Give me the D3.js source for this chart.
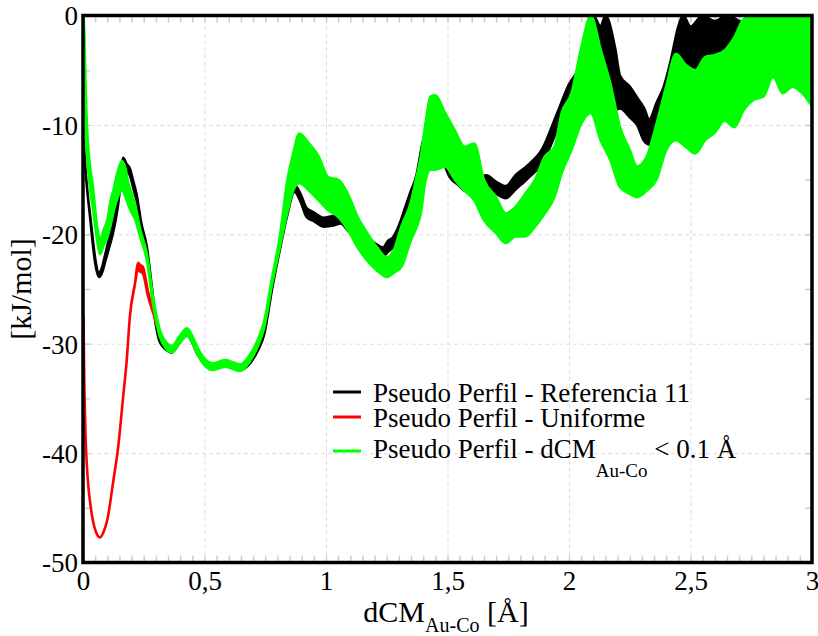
<!DOCTYPE html>
<html>
<head>
<meta charset="utf-8">
<title>Pseudo Perfil</title>
<script src="https://cdn.jsdelivr.net/npm/d3@7"></script>
<style>
  body { margin: 0; background: #fff; }
  text { font-family: "Liberation Serif", "Times New Roman", serif; fill: #000; }
  .grid line { stroke: #ddd; stroke-dasharray: 4,3; }
  .grid path, .minor path, .labels path { display: none; }
  .minor line { stroke: #ccc; stroke-width: 1.5; }
</style>
</head>
<body>
<script>
// [dCM (Å), bottom of the noise band, top of the noise band] in kJ/mol
var referencia11 = [
  [0.003,-11.5,-11.5],[0.01,-14,-14],[0.02,-16.5,-16.5],[0.03,-18.6,-18.4],[0.04,-20.8,-20.4],
  [0.05,-22.6,-22.2],[0.066,-23.9,-23.5],[0.08,-23.4,-22.9],[0.09,-22.6,-22.0],[0.105,-21.4,-20.6],
  [0.12,-20.2,-19.4],[0.135,-18.6,-17.8],[0.145,-17.2,-16.4],[0.155,-15.3,-14.5],[0.165,-13.6,-13.0],
  [0.18,-14.2,-13.6],[0.193,-14.6,-14.0],[0.205,-15.6,-15.0],[0.22,-16.9,-16.3],[0.24,-19.5,-19.0],
  [0.263,-21.6,-21.2],[0.28,-24.6,-24.2],[0.30,-28.3,-27.9],[0.317,-29.9,-29.5],[0.34,-30.5,-30.1],
  [0.366,-30.8,-30.4],[0.395,-30.0,-29.6],[0.428,-29.2,-28.8],[0.45,-29.9,-29.5],[0.47,-30.9,-30.5],
  [0.494,-31.7,-31.3],[0.535,-32.3,-31.9],[0.584,-32.0,-31.6],[0.646,-32.4,-32.0],[0.687,-31.8,-31.4],
  [0.72,-30.6,-30.2],[0.745,-29.2,-28.8],[0.778,-25.0,-24.6],[0.81,-21.4,-21.0],[0.84,-18.3,-17.9],
  [0.87,-16.1,-15.5],[0.895,-17.0,-16.3],[0.92,-18.4,-17.6],[0.95,-18.8,-18.0],[0.99,-19.3,-18.5],
  [1.03,-19.2,-18.3],[1.06,-19.0,-18.2],[1.10,-19.9,-19.1],[1.14,-20.4,-19.6],[1.17,-21.1,-20.3],
  [1.20,-21.6,-20.8],[1.235,-22.0,-21.2],[1.255,-21.6,-20.6],[1.275,-21.2,-20.3],[1.30,-20.2,-19.2],
  [1.325,-18.5,-17.6],[1.35,-17.0,-16.0],[1.37,-15.8,-14.8],[1.40,-12.4,-11.4],[1.43,-10.8,-9.8],
  [1.45,-11.5,-10.3],[1.48,-13.2,-12.2],[1.51,-14.8,-13.9],[1.545,-15.5,-14.5],[1.58,-16.1,-15.1],
  [1.62,-15.9,-14.8],[1.66,-15.8,-14.6],[1.70,-16.3,-15.2],[1.74,-16.7,-15.6],[1.78,-15.9,-14.6],
  [1.83,-14.9,-13.7],[1.89,-13.5,-12.2],[1.95,-10.5,-9.0],[2.0,-7.6,-6.3],[2.05,-6.5,-4.5],
  [2.08,-6.0,-2.5],[2.1,-5.5,0],[2.13,-6,-1],[2.15,-6.5,0],[2.19,-8.6,-3],[2.21,-8.5,-5.5],
  [2.25,-9.3,-6.5],[2.28,-10.0,-7.5],[2.31,-11.5,-8.5],[2.33,-11.8,-9.5],[2.36,-10.5,-8.0],
  [2.39,-9.6,-6.5],[2.42,-8,-4],[2.45,-6,-1],[2.47,-6,0],[2.5,-5.5,-1],[2.55,-6,0],
  [2.6,-5,-0.5],[2.65,-5.5,0],[2.7,-5,-0.5],[2.73,-4.5,-1]
];
var uniforme = [
  [0.002,-27.5,-27.5],[0.005,-33,-33],[0.01,-38,-38],[0.02,-42.5,-42.5],[0.03,-44.6,-44.6],
  [0.04,-46.1,-46.1],[0.055,-47.3,-47.3],[0.07,-47.7,-47.7],[0.085,-47.2,-47.2],[0.1,-46.1,-46.1],
  [0.125,-42.5,-42.5],[0.145,-39.4,-39.4],[0.165,-34.9,-34.9],[0.18,-31.5,-31.5],[0.193,-27.5,-27.5],
  [0.214,-24.5,-24.5],[0.226,-23.2,-22.6],[0.235,-23.4,-22.8],[0.247,-23.6,-23.0],[0.267,-25.6,-25.2],
  [0.296,-27.7,-27.3],[0.317,-29.4,-29.0]
];
var dcm01 = [
  [0.002,-1,0],[0.006,-6,-2],[0.01,-9.5,-6],[0.016,-12.5,-10],[0.025,-15,-13],[0.04,-17.5,-15.5],
  [0.058,-20.5,-19.3],[0.07,-21.8,-20.6],[0.085,-21.0,-19.6],[0.1,-20.3,-18.7],[0.115,-19.0,-16.8],
  [0.125,-18.0,-16.0],[0.14,-16.8,-14.5],[0.16,-16.0,-13.3],[0.175,-16.6,-14.0],[0.186,-17.3,-15.3],
  [0.2,-18.0,-16.2],[0.214,-18.6,-17.2],[0.235,-20.2,-19.5],[0.263,-22.4,-21.8],[0.288,-26.3,-25.7],
  [0.317,-29.4,-28.8],[0.34,-30.4,-29.8],[0.366,-30.8,-30.2],[0.395,-30.0,-29.4],[0.428,-29.3,-28.6],
  [0.45,-29.9,-29.3],[0.47,-30.9,-30.3],[0.494,-31.8,-31.2],[0.535,-32.4,-31.8],[0.584,-32.1,-31.5],
  [0.646,-32.5,-31.9],[0.687,-31.6,-31.0],[0.72,-30.2,-29.6],[0.745,-28.6,-28.0],[0.778,-24.6,-24.0],
  [0.81,-21.2,-20.2],[0.84,-18.1,-15.2],[0.865,-16.0,-12.6],[0.89,-15.3,-10.8],[0.93,-16.0,-11.7],
  [0.97,-16.9,-12.9],[1.01,-17.8,-14.8],[1.05,-18.4,-15.0],[1.09,-19.6,-16.3],[1.13,-21.2,-18.4],
  [1.17,-22.4,-19.9],[1.21,-23.3,-21.2],[1.25,-23.9,-22.1],[1.28,-23.5,-21.4],[1.31,-23.0,-19.3],
  [1.35,-20.5,-17.0],[1.37,-19.5,-15],[1.39,-18.1,-12.9],[1.41,-15,-9.8],[1.43,-14.1,-7.4],
  [1.45,-14.1,-7.3],[1.49,-13.8,-8.9],[1.53,-15,-10.5],[1.57,-16,-12],[1.61,-16.9,-11.7],
  [1.65,-18.7,-15],[1.70,-19.9,-16.6],[1.74,-20.8,-18.1],[1.78,-20.2,-17.5],[1.82,-20.2,-16.3],
  [1.86,-19.3,-15],[1.90,-18.1,-12.9],[1.94,-16.6,-12],[1.97,-14.4,-8.9],[2.01,-12.3,-7.1],
  [2.05,-9.9,-3.0],[2.09,-8.9,0],[2.13,-11.4,-3.1],[2.17,-13.2,-6.2],[2.21,-15.7,-10.2],
  [2.25,-16.3,-12.3],[2.28,-16.6,-13.8],[2.32,-16.0,-12.9],[2.36,-15,-9.9],[2.40,-12.3,-6.5],
  [2.44,-11.4,-3.5],[2.48,-12.0,-4.5],[2.52,-12.6,-5],[2.56,-11.4,-3.8],[2.60,-10.7,-3.6],
  [2.64,-9.6,-3.2],[2.68,-10.2,-2],[2.72,-8.6,-0.3],[2.76,-7.7,0],[2.80,-7.4,0],[2.84,-5.6,0],
  [2.88,-7.1,0],[2.92,-6.5,0],[2.96,-7.1,0],[3.0,-8.3,0]
];
var xTicks = [0, 0.5, 1, 1.5, 2, 2.5, 3];
var yTicks = [0, -10, -20, -30, -40, -50];
var seriesNames = ["Pseudo Perfil - Referencia 11", "Pseudo Perfil - Uniforme", "Pseudo Perfil - dCM"];
var seriesColors = ["#000000", "#ff0000", "#00ff00"];

var width = 818, height = 636;
var plotLeft = 83, plotRight = 812, plotTop = 15.5, plotBottom = 562.5;

var svg = d3.select("body").append("svg")
  .attr("width", width)
  .attr("height", height);

var x = d3.scaleLinear().domain([0, 3]).range([plotLeft, plotRight]);
var y = d3.scaleLinear().domain([-50, 0]).range([plotBottom, plotTop]);

// dashed grid at the labelled values
svg.append("g").attr("class", "grid")
  .attr("transform", "translate(0," + plotBottom + ")")
  .call(d3.axisBottom(x).tickValues(xTicks.slice(1, -1)).tickSize(-(plotBottom - plotTop)).tickFormat(""));
svg.append("g").attr("class", "grid")
  .attr("transform", "translate(" + plotLeft + ",0)")
  .call(d3.axisLeft(y).tickValues(yTicks.slice(1, -1)).tickSize(-(plotRight - plotLeft)).tickFormat(""));

// small grey ticks on all four sides, pointing inward
var xMinor = d3.range(0, 3.001, 0.05);
var yMinor = d3.range(-50, 0.001, 5);
svg.append("g").attr("class", "minor").attr("transform", "translate(0," + plotBottom + ")")
  .call(d3.axisBottom(x).tickValues(xMinor).tickSize(-7).tickFormat(""));
svg.append("g").attr("class", "minor").attr("transform", "translate(0," + plotTop + ")")
  .call(d3.axisTop(x).tickValues(xMinor).tickSize(-7).tickFormat(""));
svg.append("g").attr("class", "minor").attr("transform", "translate(" + plotLeft + ",0)")
  .call(d3.axisLeft(y).tickValues(yMinor).tickSize(-7).tickFormat(""));
svg.append("g").attr("class", "minor").attr("transform", "translate(" + plotRight + ",0)")
  .call(d3.axisRight(y).tickValues(yMinor).tickSize(-7).tickFormat(""));

svg.append("clipPath").attr("id", "plot")
  .append("rect")
  .attr("x", plotLeft).attr("y", plotTop)
  .attr("width", plotRight - plotLeft).attr("height", plotBottom - plotTop);

var band = d3.area()
  .curve(d3.curveMonotoneX)
  .x(function(d){ return x(d[0]); })
  .y0(function(d){ return y(d[1]); })
  .y1(function(d){ return y(d[2]); });

var series = [referencia11, uniforme, dcm01];
svg.append("g").attr("clip-path", "url(#plot)")
  .selectAll("path")
  .data(series)
  .enter()
  .append("path")
  .attr("d", band)
  .attr("fill", function(d, i){ return seriesColors[i]; })
  .attr("stroke", function(d, i){ return seriesColors[i]; })
  .attr("stroke-width", 2.6)
  .attr("stroke-linejoin", "round");

// frame
svg.append("rect")
  .attr("x", plotLeft).attr("y", plotTop)
  .attr("width", plotRight - plotLeft).attr("height", plotBottom - plotTop)
  .attr("fill", "none")
  .attr("stroke", "black")
  .attr("stroke-width", 3.5);

// tick labels
var gx = svg.append("g").attr("class", "labels")
  .attr("transform", "translate(0," + plotBottom + ")")
  .call(d3.axisBottom(x).tickValues(xTicks).tickSize(0).tickPadding(8)
    .tickFormat(function(d){ return String(d).replace(".", ","); }));
gx.selectAll("text").attr("font-size", 27).attr("font-family", "Liberation Serif").attr("dy", "0.71em");

var gy = svg.append("g").attr("class", "labels")
  .attr("transform", "translate(" + plotLeft + ",0)")
  .call(d3.axisLeft(y).tickValues(yTicks).tickSize(0).tickPadding(5)
    .tickFormat(function(d){ return String(d); }));
gy.selectAll("text").attr("font-size", 27).attr("font-family", "Liberation Serif").attr("dy", "0.35em");

// axis titles
var xt = svg.append("text")
  .attr("x", 446).attr("y", 622)
  .attr("text-anchor", "middle")
  .attr("font-size", 30);
xt.append("tspan").text("dCM");
xt.append("tspan").attr("font-size", 20).attr("dy", 10).text("Au-Co");
xt.append("tspan").attr("dy", -10).text(" [Å]");

svg.append("text")
  .attr("transform", "translate(31,289) rotate(-90)")
  .attr("text-anchor", "middle")
  .attr("font-size", 30)
  .text("[kJ/mol]");

// legend
var legendLines = [392, 417, 451];
var legendBase = [402, 427, 458];
var legend = svg.append("g");
legend.selectAll("line")
  .data(seriesColors)
  .enter()
  .append("line")
  .attr("x1", 333).attr("x2", 361)
  .attr("y1", function(d, i){ return legendLines[i]; })
  .attr("y2", function(d, i){ return legendLines[i]; })
  .attr("stroke", function(d){ return d; })
  .attr("stroke-width", 3);
legend.selectAll("text")
  .data(seriesNames)
  .enter()
  .append("text")
  .attr("x", 373)
  .attr("y", function(d, i){ return legendBase[i]; })
  .attr("font-size", 27)
  .each(function(d, i){
    var t = d3.select(this);
    t.append("tspan").text(d);
    if (i == 2) {
      t.append("tspan").attr("font-size", 19).attr("dy", 19).text("Au-Co");
      t.append("tspan").attr("dy", -19).text(" < 0.1 Å");
    }
  });
</script>
</body>
</html>
